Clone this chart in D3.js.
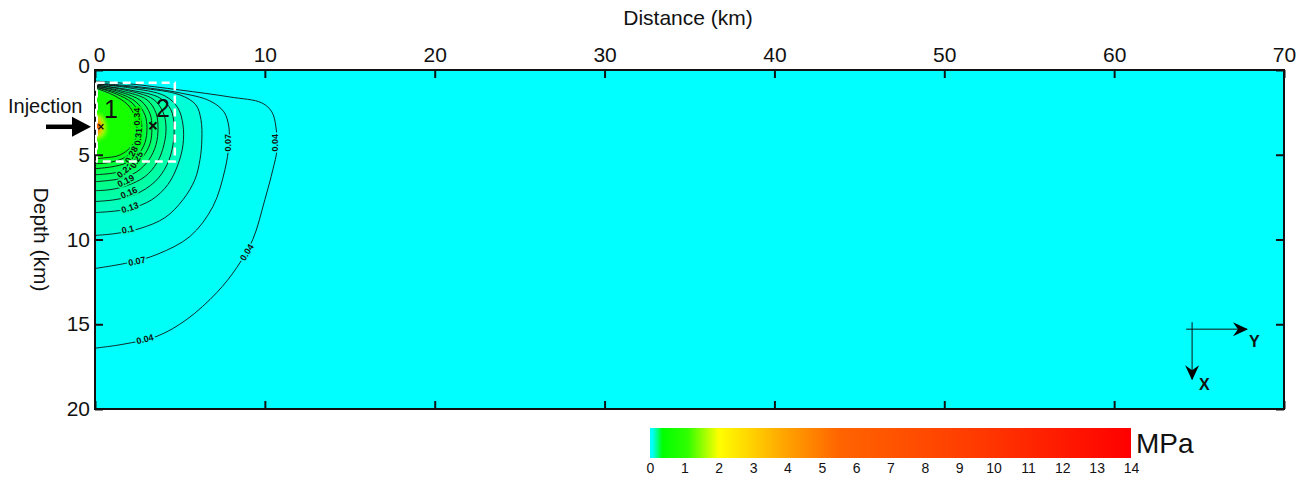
<!DOCTYPE html>
<html>
<head>
<meta charset="utf-8">
<script src="https://cdn.jsdelivr.net/npm/d3@7"></script>
<style>
  body { margin: 0; background: #fff; }
  svg { display: block; font-family: "Liberation Sans", Arial, sans-serif; }
</style>
</head>
<body>
<div id="chart"></div>
<script>
// axis ticks
const xTicks = [0, 10, 20, 30, 40, 50, 60, 70];
const yTicks = [0, 5, 10, 15, 20];
const cbTicks = [0, 1, 2, 3, 4, 5, 6, 7, 8, 9, 10, 11, 12, 13, 14];

// colour bar stops [MPa, colour]
const cbStops = [[0, "#00ffff"], [0.08, "#00fff4"], [0.2, "#00ff90"], [0.36, "#00ff00"],
                 [1.1, "#30ff00"], [2, "#ffff00"], [3.9, "#ffa500"], [5.5, "#ff6400"],
                 [9.5, "#ff3a00"], [14, "#ff0000"]];

// contour lines, [distance km, depth km]
const c004 = [[0,0.65],[2.06,0.82],[5,1.18],[7.94,1.59],[9.82,1.94],[10.41,2.47],[10.65,3.35],[10.71,4.71],[10.47,5.88],[10,7.65],[9.29,10],[8.35,11.65],[7.18,13.12],[5.41,14.71],[3.65,15.71],[1.65,16.18],[0,16.41]];
const c007 = [[0,0.76],[2.65,1],[5,1.35],[6.76,1.82],[7.59,2.47],[7.88,3.35],[7.88,4.41],[7.65,5.88],[6.94,8.06],[5.59,9.82],[3.65,10.88],[2.06,11.35],[0,11.71]];
const c010 = [[0,0.82],[2.65,1.06],[5,1.47],[5.94,2.06],[6.24,2.94],[6.29,4.12],[6.18,5.29],[5.88,6.47],[5.18,7.65],[4.12,8.71],[2.65,9.35],[1.18,9.65],[0,9.76]];
const c013 = [[0,0.82],[2.06,1.06],[4.12,1.53],[4.88,2.24],[5.18,3.24],[5.18,4.41],[4.88,5.59],[4.29,6.76],[3.35,7.65],[2.06,8.18],[0.88,8.35],[0,8.41]];
const c016 = [[0,0.88],[2.06,1.18],[3.82,1.65],[4.47,2.35],[4.65,3.24],[4.59,4.41],[4.24,5.59],[3.53,6.59],[2.35,7.35],[1.18,7.65],[0,7.76]];
const c019 = [[0,0.88],[1.76,1.18],[3.41,1.71],[4,2.47],[4.18,3.35],[4.06,4.41],[3.65,5.47],[2.94,6.29],[1.88,6.82],[0.88,7.06],[0,7.12]];
const c022 = [[0,0.94],[1.59,1.24],[3.06,1.76],[3.59,2.53],[3.71,3.41],[3.59,4.41],[3.18,5.29],[2.47,6],[1.47,6.41],[0,6.59]];
const c025 = [[0,0.94],[1.47,1.29],[2.71,1.82],[3.24,2.59],[3.35,3.41],[3.24,4.35],[2.82,5.12],[2.18,5.71],[1.18,6.06],[0,6.18]];
const c028 = [[0,1],[1.35,1.35],[2.41,1.88],[2.94,2.65],[3.06,3.41],[2.94,4.29],[2.53,5],[1.88,5.47],[1,5.71],[0,5.82]];
const c031 = [[0,1],[1.24,1.41],[2.18,1.94],[2.65,2.71],[2.76,3.47],[2.65,4.24],[2.24,4.82],[1.59,5.24],[0.76,5.47],[0,5.53]];
const c034 = [[0,1.06],[1.06,1.47],[1.94,2.06],[2.35,2.76],[2.47,3.47],[2.35,4.18],[1.94,4.71],[1.35,5.06],[0.59,5.18],[0,5.24]];

// unlabeled inner zones round the injection point (fill only)
const c100 = [[0,2.6],[0.4,2.8],[0.6,3.3],[0.5,3.85],[0,4.1]];
const c200 = [[0,2.8],[0.3,2.9],[0.45,3.35],[0.35,3.75],[0,3.9]];
const c400 = [[0,2.9],[0.25,3.0],[0.35,3.35],[0.25,3.7],[0,3.8]];
const c800 = [[0,3.0],[0.15,3.1],[0.22,3.35],[0.15,3.6],[0,3.7]];

const contours = [
  {level: 0.04, pts: c004}, {level: 0.07, pts: c007}, {level: 0.1, pts: c010},
  {level: 0.13, pts: c013}, {level: 0.16, pts: c016}, {level: 0.19, pts: c019},
  {level: 0.22, pts: c022}, {level: 0.25, pts: c025}, {level: 0.28, pts: c028},
  {level: 0.31, pts: c031}, {level: 0.34, pts: c034}
];
const inner = [{level: 1, pts: c100}, {level: 2, pts: c200}, {level: 4, pts: c400}, {level: 8, pts: c800}];

// contour labels [level, distance, depth, angle]
const labels = [
  ["0.04", 10.62, 4.29, -90], ["0.04", 8.94, 10.76, -58], ["0.04", 2.94, 15.88, -14],
  ["0.07", 7.85, 4.29, -90], ["0.07", 2.47, 11.29, -12],
  ["0.1", 1.94, 9.41, -13], ["0.13", 2.06, 8.12, -18], ["0.16", 2.0, 7.24, -24],
  ["0.19", 1.82, 6.55, -26], ["0.22", 1.76, 5.94, -40], ["0.25", 2.45, 5.3, -60],
  ["0.28", 2.15, 5.0, -62], ["0.31", 2.55, 3.94, -85], ["0.34", 2.45, 2.75, -90]
];

// observation points
const points = [{name: "1", x: 0.35, d: 3.35}, {name: "2", x: 3.41, d: 3.29}];
const injDepth = 3.35;
const boxKm = [0.1, 0.75, 4.7, 5.4];

const width = 1309, height = 482;
const marginTop = 70, marginLeft = 95;

const x = d3.scaleLinear([0, 70], [marginLeft, 1284]);
const y = d3.scaleLinear([0, 20], [marginTop, 409]);

const colorScale = d3.scaleLinear(cbStops.map(d => d[0]), cbStops.map(d => d[1]));

const svg = d3.create("svg")
    .attr("viewBox", [0, 0, width, height])
    .attr("width", width)
    .attr("height", height);

const defs = svg.append("defs");
defs.append("clipPath").attr("id", "plot")
  .append("rect")
    .attr("x", x(0)).attr("y", y(0))
    .attr("width", x(70) - x(0)).attr("height", y(20) - y(0));
defs.append("filter").attr("id", "soft")
    .attr("x", "-20%").attr("y", "-20%").attr("width", "140%").attr("height", "140%")
  .append("feGaussianBlur").attr("stdDeviation", 2);

const grad = defs.append("linearGradient").attr("id", "cb");
grad.selectAll("stop")
  .data(cbStops)
  .join("stop")
    .attr("offset", d => d[0] / 14)
    .attr("stop-color", d => d[1]);

// background field
svg.append("rect")
    .attr("x", x(0)).attr("y", y(0))
    .attr("width", x(70) - x(0)).attr("height", y(20) - y(0))
    .attr("fill", colorScale(0));

const line = d3.line()
    .x(d => x(d[0]))
    .y(d => y(d[1]))
    .curve(d3.curveCatmullRom);

// filled bands, mirrored across the left edge so the blur stays clean there
const all = contours.concat(inner);
const bandColor = (d, i) => {
  const next = all[i + 1];
  return colorScale(next ? (d.level + next.level) / 2 : d.level * 1.3);
};

const fills = svg.append("g").attr("clip-path", "url(#plot)")
  .append("g").attr("filter", "url(#soft)");

fills.selectAll("path.f")
  .data(all)
  .join("path")
    .attr("class", "f")
    .attr("fill", bandColor)
    .attr("d", d => line(d.pts) + "Z");

fills.selectAll("path.m")
  .data(all)
  .join("path")
    .attr("class", "m")
    .attr("fill", bandColor)
    .attr("transform", `translate(${2 * x(0)},0) scale(-1,1)`)
    .attr("d", d => line(d.pts) + "Z");

// contour lines
svg.append("g")
    .attr("clip-path", "url(#plot)")
    .attr("fill", "none")
    .attr("stroke", "#111")
    .attr("stroke-width", 0.9)
  .selectAll("path")
  .data(contours)
  .join("path")
    .attr("d", d => line(d.pts));

// contour labels
svg.append("g")
    .attr("font-size", 9)
    .attr("font-weight", "bold")
    .attr("text-anchor", "middle")
    .attr("dominant-baseline", "central")
  .selectAll("text")
  .data(labels)
  .join("text")
    .attr("transform", d => `translate(${x(d[1])},${y(d[2])}) rotate(${d[3]})`)
    .attr("fill", "#111")
    .attr("stroke", d => colorScale(+d[0] + 0.02))
    .attr("stroke-width", 3)
    .attr("paint-order", "stroke")
    .text(d => d[0]);

// dashed box
svg.append("rect")
    .attr("x", x(boxKm[0])).attr("y", y(boxKm[1]))
    .attr("width", x(boxKm[2]) - x(boxKm[0]))
    .attr("height", y(boxKm[3]) - y(boxKm[1]))
    .attr("fill", "none")
    .attr("stroke", "#fff")
    .attr("stroke-width", 2.5)
    .attr("stroke-dasharray", "8,5");

// observation points
const pts = svg.append("g");
pts.selectAll("path")
  .data(points)
  .join("path")
    .attr("transform", d => `translate(${x(d.x)},${y(d.d)})`)
    .attr("d", (d, i) => { const r = i ? 3.5 : 2.5; return `M${-r},${-r}L${r},${r}M${-r},${r}L${r},${-r}`; })
    .attr("stroke", "#111")
    .attr("stroke-width", (d, i) => i ? 2 : 1.3);
pts.selectAll("text")
  .data(points)
  .join("text")
    .attr("x", d => x(d.x) + 10)
    .attr("y", d => y(d.d) - 9)
    .attr("text-anchor", "middle")
    .attr("font-size", 25)
    .attr("fill", "#111")
    .text(d => d.name);

// frame
svg.append("rect")
    .attr("x", x(0)).attr("y", y(0))
    .attr("width", x(70) - x(0)).attr("height", y(20) - y(0))
    .attr("fill", "none")
    .attr("stroke", "#111")
    .attr("stroke-width", 2);

// re-draw the dashed white over the left edge
svg.append("line")
    .attr("x1", x(0) + 1).attr("x2", x(0) + 1)
    .attr("y1", y(boxKm[1])).attr("y2", y(boxKm[3]))
    .attr("stroke", "#fff")
    .attr("stroke-width", 2)
    .attr("stroke-dasharray", "8,5");

// axes, ticks inward on all sides
const styleAxis = g => {
  g.select(".domain").remove();
  g.selectAll(".tick line").attr("stroke", "#111").attr("stroke-width", 2);
  g.selectAll(".tick text").attr("fill", "#111").attr("font-size", 21);
};

svg.append("g")
    .attr("transform", `translate(0,${y(0)})`)
    .call(d3.axisTop(x).tickValues(xTicks).tickSize(-8).tickPadding(8))
    .call(styleAxis)
    .call(g => g.select(".tick text").attr("dx", 4));
svg.append("g")
    .attr("transform", `translate(0,${y(20)})`)
    .call(d3.axisBottom(x).tickValues(xTicks).tickSize(-8).tickFormat(""))
    .call(styleAxis);
svg.append("g")
    .attr("transform", `translate(${x(0)},0)`)
    .call(d3.axisLeft(y).tickValues(yTicks).tickSize(-8).tickPadding(5))
    .call(styleAxis)
    .call(g => g.select(".tick text").attr("dy", "0.1em"));
svg.append("g")
    .attr("transform", `translate(${x(70)},0)`)
    .call(d3.axisRight(y).tickValues(yTicks).tickSize(-8).tickFormat(""))
    .call(styleAxis);

svg.append("text")
    .attr("x", 688)
    .attr("y", 25)
    .attr("text-anchor", "middle")
    .attr("font-size", 21)
    .attr("fill", "#111")
    .text("Distance (km)");

svg.append("text")
    .attr("transform", `translate(34,${(y(0) + y(20)) / 2}) rotate(90)`)
    .attr("text-anchor", "middle")
    .attr("font-size", 21)
    .attr("fill", "#111")
    .text("Depth (km)");

// injection arrow
const iy = y(injDepth);
svg.append("text")
    .attr("x", 8).attr("y", iy - 14)
    .attr("font-size", 20)
    .attr("fill", "#111")
    .text("Injection");
svg.append("line")
    .attr("x1", 46).attr("x2", x(0) - 18)
    .attr("y1", iy).attr("y2", iy)
    .attr("stroke", "#000")
    .attr("stroke-width", 4.5);
svg.append("path")
    .attr("d", `M${x(0) - 23},${iy - 10}L${x(0) - 4},${iy}L${x(0) - 23},${iy + 10}Z`)
    .attr("fill", "#000");

// coordinate symbol
const ox = x(64.24), oy = y(15.29);
const sym = svg.append("g").attr("stroke", "#111").attr("stroke-width", 1);
sym.append("line").attr("x1", ox).attr("x2", x(67.82)).attr("y1", oy).attr("y2", oy);
sym.append("line").attr("x1", x(64.59)).attr("x2", x(64.59)).attr("y1", y(14.88)).attr("y2", y(18.24));
svg.append("path")
    .attr("d", `M${x(67.82) - 14},${oy - 7}L${x(67.82) + 1},${oy}L${x(67.82) - 14},${oy + 7}L${x(67.82) - 9},${oy}Z`)
    .attr("fill", "#000");
svg.append("path")
    .attr("d", `M${x(64.59) - 7},${y(18.24) - 14}L${x(64.59)},${y(18.24) + 1}L${x(64.59) + 7},${y(18.24) - 14}L${x(64.59)},${y(18.24) - 9}Z`)
    .attr("fill", "#000");
svg.append("text")
    .attr("x", x(67.82) + 2).attr("y", oy + 18)
    .attr("font-size", 16).attr("font-weight", "bold").attr("fill", "#111")
    .text("Y");
svg.append("text")
    .attr("x", x(64.59) + 7).attr("y", y(18.24) + 11)
    .attr("font-size", 16).attr("font-weight", "bold").attr("fill", "#111")
    .text("X");

// colour bar
const cb = d3.scaleLinear([0, 14], [650, 1131]);
svg.append("rect")
    .attr("x", cb(0)).attr("y", 428)
    .attr("width", cb(14) - cb(0)).attr("height", 30)
    .attr("fill", "url(#cb)");
svg.append("g")
    .attr("transform", "translate(0,458)")
    .call(d3.axisBottom(cb).tickValues(cbTicks).tickSize(0).tickPadding(5))
    .call(g => g.select(".domain").remove())
    .call(g => g.selectAll("text").attr("font-size", 14).attr("fill", "#111"));
svg.append("text")
    .attr("x", 1136).attr("y", 453)
    .attr("font-size", 28)
    .attr("fill", "#111")
    .text("MPa");

document.getElementById("chart").appendChild(svg.node());
</script>
</body>
</html>
